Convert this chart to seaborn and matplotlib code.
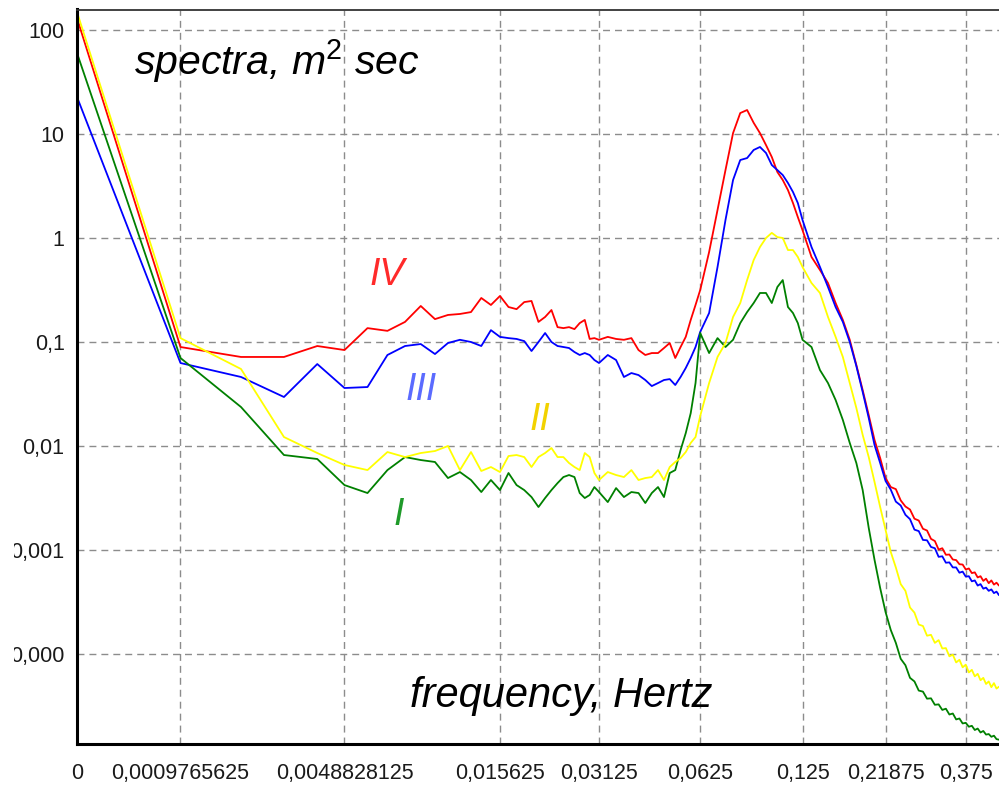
import matplotlib
matplotlib.use("Agg")
import matplotlib.pyplot as plt
from matplotlib.patches import Rectangle
from matplotlib.ticker import FixedLocator, FixedFormatter, LogLocator, NullFormatter
import numpy as np
import pandas as pd
import seaborn as sns

DF = 1 / 1024  # frequency resolution, Hz

# spectral bin numbers (frequency = bin * DF)
BINS = (
    list(range(0, 33))
    + list(range(34, 65, 2))
    + list(range(68, 129, 4))
    + list(range(136, 481, 8))
)

SPEC_IV = [
    130, 0.0895, 0.0718, 0.0718, 0.0915, 0.0837, 0.136, 0.128, 0.156, 0.222, 0.166,
    0.182, 0.186, 0.194, 0.265, 0.227, 0.277, 0.217, 0.207, 0.242, 0.248, 0.156,
    0.174, 0.203, 0.139, 0.136, 0.139, 0.133, 0.152, 0.163, 0.107, 0.109, 0.105,
    0.112, 0.107, 0.105, 0.109, 0.0837, 0.0750, 0.0783, 0.0783, 0.0875, 0.0978,
    0.0702, 0.0895, 0.112, 0.163, 0.227, 0.316,
    0.733, 1.86, 4.50, 10.2, 15.9, 17.0, 12.8, 10.2, 7.83, 6.01, 4.31, 3.61, 2.89,
    2.17, 1.59, 1.19,
    0.657, 0.492, 0.369, 0.237, 0.163, 0.105, 0.0601, 0.0345, 0.0198, 0.0114,
    0.00766, 0.00492, 0.00403, 0.00385, 0.00300, 0.00262, 0.00245, 0.00200,
    0.00192, 0.00160, 0.00154, 0.00128, 0.00122, 0.00101, 0.00104, 0.000900,
    0.000905, 0.000810, 0.000800, 0.000730, 0.000725, 0.000650, 0.000665,
    0.000600, 0.000610, 0.000545, 0.000560, 0.000505, 0.000530, 0.000480,
    0.000510, 0.000465, 0.000485, 0.000455,
]
SPEC_III = [
    22.7, 0.0628, 0.0461, 0.0296, 0.0614, 0.0361, 0.0369, 0.0750, 0.0915, 0.0956,
    0.0766, 0.0978, 0.105, 0.100, 0.0915, 0.130, 0.112, 0.109, 0.107, 0.102,
    0.0819, 0.100, 0.122, 0.100, 0.0915, 0.0895, 0.0875, 0.0801, 0.0750, 0.0783,
    0.0750, 0.0671, 0.0628,
    0.0750, 0.0671, 0.0461, 0.0503, 0.0481, 0.0431, 0.0377, 0.0403, 0.0431,
    0.0440, 0.0386, 0.0461, 0.0562, 0.0702, 0.0895, 0.125,
    0.190, 0.526, 1.49, 3.61, 5.62, 5.87, 7.02, 7.50, 6.57, 5.03, 4.50, 4.03, 3.38,
    2.77, 2.17, 1.49,
    0.819, 0.526, 0.338, 0.217, 0.156, 0.100, 0.0587, 0.0331, 0.0186, 0.0102,
    0.00686, 0.00461, 0.00380, 0.00292, 0.00268, 0.00218, 0.00198, 0.00157,
    0.00152, 0.00125, 0.00124, 0.00107, 0.00104, 0.000860, 0.000870, 0.000755,
    0.000760, 0.000680, 0.000680, 0.000605, 0.000620, 0.000555, 0.000560,
    0.000500, 0.000510, 0.000455, 0.000470, 0.000425, 0.000435, 0.000405,
    0.000418, 0.000385, 0.000398, 0.000368,
]
SPEC_II = [
    149, 0.109, 0.0550, 0.0122, 0.00856, 0.00657, 0.00587, 0.00875, 0.00783,
    0.00856, 0.00895, 0.0100, 0.00587, 0.00875, 0.00575, 0.00628, 0.00562,
    0.00801, 0.00819, 0.00783, 0.00628, 0.00783, 0.00856, 0.00956, 0.00783,
    0.00783, 0.00686, 0.00628, 0.00587, 0.00856, 0.00783, 0.00550, 0.00471,
    0.00562, 0.00526, 0.00503, 0.00587, 0.00471, 0.00492, 0.00503, 0.00587,
    0.00471, 0.00628, 0.00702, 0.00766, 0.00875, 0.0107, 0.0122, 0.0194,
    0.0403, 0.0718, 0.0978, 0.174, 0.237, 0.394, 0.614, 0.819, 1.00, 1.12, 1.02,
    1.00, 0.766, 0.766, 0.657, 0.526,
    0.369, 0.296, 0.174, 0.112, 0.0718, 0.0403, 0.0232, 0.0128, 0.00783, 0.00450,
    0.00259, 0.00156, 0.000956, 0.000680, 0.000470, 0.000405, 0.000280,
    0.000250, 0.000192, 0.000186, 0.000150, 0.000153, 0.000128, 0.000136,
    0.000113, 0.000114, 0.0000950, 0.0000985, 0.0000830, 0.0000880, 0.0000745,
    0.0000790, 0.0000665, 0.0000705, 0.0000610, 0.0000645, 0.0000560, 0.0000590,
    0.0000515, 0.0000545, 0.0000480, 0.0000525, 0.0000465, 0.0000485,
]
SPEC_I = [
    60.1, 0.0702, 0.0237, 0.00819, 0.00750, 0.00421, 0.00353, 0.00587, 0.00783,
    0.00733, 0.00702, 0.00492, 0.00562, 0.00471, 0.00361, 0.00471, 0.00377,
    0.00550, 0.00421, 0.00377, 0.00323, 0.00259, 0.00316, 0.00377, 0.00440,
    0.00503, 0.00526, 0.00503, 0.00353, 0.00316, 0.00338, 0.00403, 0.00361,
    0.00289, 0.00394, 0.00323, 0.00361, 0.00353, 0.00283, 0.00353, 0.00403,
    0.00323, 0.00550, 0.00587, 0.00915, 0.0133, 0.0207, 0.0403, 0.122,
    0.0783, 0.109, 0.0895, 0.105, 0.152, 0.194, 0.237, 0.296, 0.296, 0.237, 0.338,
    0.394, 0.217, 0.190, 0.152, 0.105,
    0.0895, 0.0537, 0.0403, 0.0277, 0.0178, 0.0107, 0.00686, 0.00377, 0.00163,
    0.000801, 0.000431, 0.000253, 0.000170, 0.000128, 0.0000900, 0.0000780,
    0.0000590, 0.0000545, 0.0000445, 0.0000435, 0.0000372, 0.0000375, 0.0000325,
    0.0000328, 0.0000290, 0.0000298, 0.0000262, 0.0000268, 0.0000235, 0.0000240,
    0.0000215, 0.0000218, 0.0000200, 0.0000204, 0.0000186, 0.0000192, 0.0000176,
    0.0000182, 0.0000168, 0.0000170, 0.0000160, 0.0000164, 0.0000152, 0.0000150,
]

SERIES = ["IV", "III", "I", "II"]
LINE_COLORS = {"IV": "#ff0000", "III": "#0000ff", "I": "#008000", "II": "#ffff00"}
LABEL_COLORS = {"IV": "#ff2a2a", "III": "#5b6bff", "I": "#1f9a2a", "II": "#f2d200"}

X_TICKS = [0, 0.0009765625, 0.0048828125, 0.015625, 0.03125, 0.0625, 0.125, 0.21875, 0.375]
X_TICK_LABELS = ["0", "0,0009765625", "0,0048828125", "0,015625", "0,03125",
                 "0,0625", "0,125", "0,21875", "0,375"]
X_MINOR_BINS = [2.2, 4.5, 5.4, 6.7, 10, 14.4, 18.6, 45, 91, 105, 180, 208, 296, 350, 416]
Y_TICKS = [1e-4, 1e-3, 1e-2, 1e-1, 1, 10, 100]
Y_TICK_LABELS = ["0,000", "0,001", "0,01", "0,1", "1", "10", "100"]


def forward(f):
    return np.log2(np.maximum(np.asarray(f) / DF + 1.0, 1e-9))


def inverse(u):
    return (np.power(2.0, u) - 1.0) * DF


sns.set_style("white")
plt.rcParams["font.family"] = ["Liberation Sans", "DejaVu Sans"]
plt.rcParams["mathtext.fontset"] = "custom"
plt.rcParams["mathtext.rm"] = "Liberation Sans"
plt.rcParams["mathtext.it"] = "Liberation Sans:italic"

spectra = {"IV": SPEC_IV, "III": SPEC_III, "II": SPEC_II, "I": SPEC_I}
freq = np.array(BINS) * DF
df = pd.concat(
    [pd.DataFrame({"freq": freq, "spectrum": spectra[s], "series": s}) for s in SERIES],
    ignore_index=True,
)

fig = plt.figure(figsize=(9.99, 7.85), dpi=100)
ax = fig.add_axes([77 / 999, 41 / 785, 922 / 999, 734.5 / 785])
ax.set_xscale("function", functions=(forward, inverse))
ax.set_yscale("log")

sns.lineplot(
    data=df, x="freq", y="spectrum", hue="series", hue_order=SERIES,
    palette=LINE_COLORS, estimator=None, sort=False, legend=False,
    linewidth=1.3, ax=ax,
)

ax.set_xlim(0, 480 * DF)
ax.set_ylim(1.364e-5, 157.4)
ax.set_xlabel("")
ax.set_ylabel("")

ax.xaxis.set_major_locator(FixedLocator(X_TICKS))
ax.xaxis.set_major_formatter(FixedFormatter(X_TICK_LABELS))
ax.xaxis.set_minor_locator(FixedLocator([b * DF for b in X_MINOR_BINS]))
ax.xaxis.set_minor_formatter(NullFormatter())
ax.yaxis.set_major_locator(FixedLocator(Y_TICKS))
ax.yaxis.set_major_formatter(FixedFormatter(Y_TICK_LABELS))
ax.yaxis.set_minor_locator(LogLocator(base=10, subs=(3, 5.5, 7.5), numticks=20))
ax.yaxis.set_minor_formatter(NullFormatter())

ax.tick_params(axis="both", which="major", direction="out", color="#777777",
               width=1.0, labelsize=15.5, labelcolor="#1a1a1a")
ax.tick_params(axis="x", which="major", length=6, pad=8)
ax.tick_params(axis="y", which="major", length=5, pad=4)
ax.tick_params(axis="both", which="minor", direction="out", color="#888888",
               width=1.0, length=2.5)

ax.grid(True, which="major", color="#8c8c8c", linestyle=(0, (5, 3.6)), linewidth=1.0)
ax.set_axisbelow(True)

for side in ["left", "bottom"]:
    ax.spines[side].set_color("black")
    ax.spines[side].set_linewidth(2.2)
ax.spines["top"].set_color("#333333")
ax.spines["top"].set_linewidth(1.3)
ax.spines["right"].set_visible(False)

ax.text(0.217, 0.911, "spectra, m$^2$ sec", transform=ax.transAxes, ha="center",
        va="baseline", fontsize=29.5, style="italic", color="black")
ax.text(0.525, 0.050, "frequency, Hertz", transform=ax.transAxes, ha="center",
        va="baseline", fontsize=30, style="italic", color="black")

LABEL_POS = {"IV": (0.336, 0.625), "III": (0.373, 0.468), "II": (0.502, 0.4275), "I": (0.349, 0.298)}
for name, (tx, ty) in LABEL_POS.items():
    ax.text(tx, ty, name, transform=ax.transAxes, ha="center", va="baseline",
            fontsize=27, style="italic", color=LABEL_COLORS[name])

# the original chart cuts the long y labels off at the left edge
fig.add_artist(Rectangle((0, 0), 14 / 999, 1, transform=fig.transFigure,
                         facecolor="white", edgecolor="none", zorder=10))

fig.savefig("out.png", dpi=100, facecolor="white")
